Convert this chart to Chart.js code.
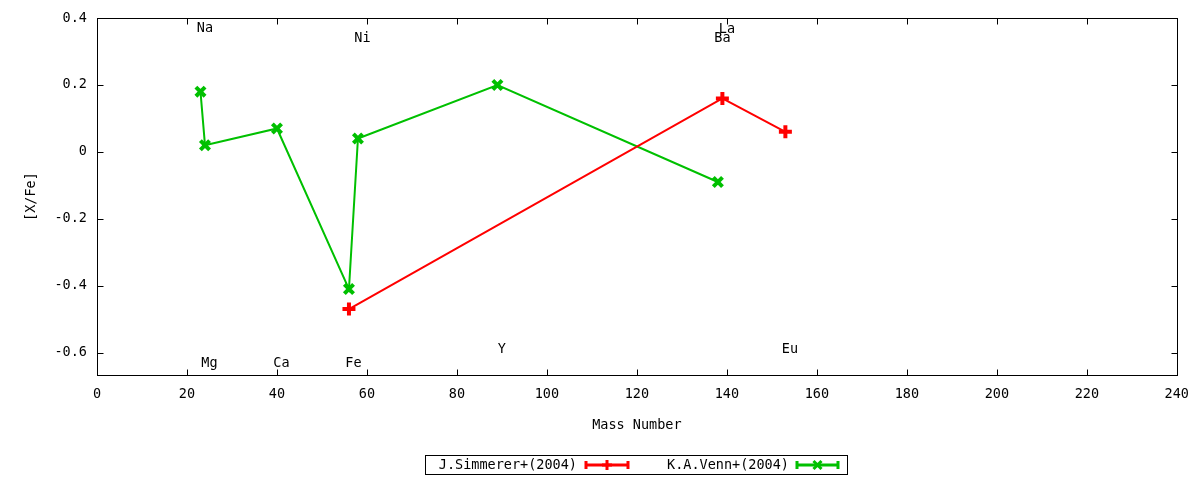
<!DOCTYPE html>
<html>
<head>
<meta charset="utf-8">
<script src="https://cdn.jsdelivr.net/npm/chart.js@4"></script>
<style>
html,body{margin:0;padding:0;background:#fff;}
#wrap{width:1200px;height:480px;position:relative;}
</style>
</head>
<body>
<div id="wrap"><canvas id="c" width="1200" height="480"></canvas></div>
<script>
// Data
const simmererMass = [56, 139, 153];
const simmererXFe  = [-0.47, 0.16, 0.06];
const vennMass = [23, 24, 40, 56, 58, 89, 138];
const vennXFe  = [0.18, 0.02, 0.07, -0.41, 0.04, 0.20, -0.09];
const elementNames = ['Na', 'Mg', 'Ca', 'Fe', 'Ni', 'Y', 'Ba', 'La', 'Eu'];
const elementMass  = [23, 24, 40, 56, 58, 89, 138, 139, 153];
const elementLabelY = [0.37, -0.633, -0.633, -0.633, 0.34, -0.591, 0.34, 0.365, -0.591];
const xTicks = [0, 20, 40, 60, 80, 100, 120, 140, 160, 180, 200, 220, 240];
const yTicks = [-0.6, -0.4, -0.2, 0, 0.2, 0.4];
const seriesNames = ['J.Simmerer+(2004)', 'K.A.Venn+(2004)'];

const FONT = '"DejaVu Sans Mono", monospace';
const FS = 13.5;
const red = '#ff0000', green = '#00c000';

function pts(xs, ys){ return xs.map((x,i)=>({x:x, y:ys[i]})); }

const framePlugin = {
  id: 'frame',
  afterDatasetsDraw(chart){
    const ctx = chart.ctx, a = chart.chartArea;
    const xs = chart.scales.x, ys = chart.scales.y;
    ctx.save();
    ctx.strokeStyle = '#000'; ctx.lineWidth = 1;
    const L = Math.round(a.left)+0.5, R = Math.round(a.right)+0.5, T = Math.round(a.top)+0.5, B = Math.round(a.bottom)+0.5;
    ctx.strokeRect(L, T, R-L, B-T);
    ctx.beginPath();
    const tl = 6;
    xTicks.forEach(v=>{
      const px = Math.round(xs.getPixelForValue(v))+0.5;
      ctx.moveTo(px, B); ctx.lineTo(px, B-tl);
      ctx.moveTo(px, T); ctx.lineTo(px, T+tl);
    });
    yTicks.forEach(v=>{
      const py = Math.round(ys.getPixelForValue(v))+0.5;
      ctx.moveTo(L, py); ctx.lineTo(L+tl, py);
      ctx.moveTo(R, py); ctx.lineTo(R-tl, py);
    });
    ctx.stroke();
    // element labels
    ctx.fillStyle = '#000';
    ctx.font = FS + 'px ' + FONT;
    ctx.textAlign = 'center'; ctx.textBaseline = 'middle';
    elementNames.forEach((n,i)=>{
      ctx.fillText(n, xs.getPixelForValue(elementMass[i]) + 4.5, ys.getPixelForValue(elementLabelY[i]));
    });
    // legend
    const bx = 425.5, by = 455.5, bw = 422, bh = 19;
    ctx.strokeRect(bx, by, bw, bh);
    const cy = by + bh/2;
    ctx.textAlign = 'right';
    const entries = [
      {name: seriesNames[0], tx: 577, l0: 586, l1: 628, color: red, style: 'cross'},
      {name: seriesNames[1], tx: 789, l0: 797, l1: 838, color: green, style: 'crossRot'}
    ];
    entries.forEach(e=>{
      ctx.fillStyle = '#000';
      ctx.fillText(e.name, e.tx, cy);
      ctx.strokeStyle = e.color; ctx.lineWidth = 3;
      ctx.beginPath();
      ctx.moveTo(e.l0, cy); ctx.lineTo(e.l1, cy);
      ctx.moveTo(e.l0, cy-4); ctx.lineTo(e.l0, cy+4);
      ctx.moveTo(e.l1, cy-4); ctx.lineTo(e.l1, cy+4);
      ctx.stroke();
      const mx = (e.l0+e.l1)/2;
      ctx.beginPath();
      if (e.style === 'cross'){
        ctx.moveTo(mx-5, cy); ctx.lineTo(mx+5, cy);
        ctx.moveTo(mx, cy-5); ctx.lineTo(mx, cy+5);
      } else {
        ctx.moveTo(mx-4, cy-4); ctx.lineTo(mx+4, cy+4);
        ctx.moveTo(mx+4, cy-4); ctx.lineTo(mx-4, cy+4);
      }
      ctx.stroke();
    });
    ctx.restore();
  }
};

new Chart(document.getElementById('c'), {
  type: 'scatter',
  data: {
    datasets: [
      {
        label: seriesNames[0],
        data: pts(simmererMass, simmererXFe),
        showLine: true,
        borderColor: red, backgroundColor: red,
        borderWidth: 2,
        pointStyle: 'cross', pointRadius: 6.5, pointBorderWidth: 4,
        pointBorderColor: red
      },
      {
        label: seriesNames[1],
        data: pts(vennMass, vennXFe),
        showLine: true,
        borderColor: green, backgroundColor: green,
        borderWidth: 2,
        pointStyle: 'crossRot', pointRadius: 6.5, pointBorderWidth: 4,
        pointBorderColor: green
      }
    ]
  },
  options: {
    responsive: false,
    animation: false,
    devicePixelRatio: 1,
    layout: {padding: {top: 16, right: 23, bottom: 0, left: 0}},
    plugins: {legend: {display: false}, tooltip: {enabled: false}},
    scales: {
      x: {
        type: 'linear', min: 0, max: 240,
        afterBuildTicks: s => { s.ticks = xTicks.map(v=>({value:v})); },
        afterFit: s => { s.height = 105; },
        grid: {display: false, drawTicks: false, tickLength: 0},
        border: {display: false},
        ticks: {color: '#000', font: {family: FONT, size: FS}, padding: 11, maxRotation: 0,
                callback: v => String(v)},
        title: {display: true, text: 'Mass Number', color: '#000', font: {family: FONT, size: FS}, padding: {top: 4, bottom: 46}}
      },
      y: {
        type: 'linear', min: -0.667, max: 0.4,
        afterBuildTicks: s => { s.ticks = yTicks.map(v=>({value:v})); },
        afterFit: s => { s.width = 97; },
        grid: {display: false, drawTicks: false, tickLength: 0},
        border: {display: false},
        ticks: {color: '#000', font: {family: FONT, size: FS}, padding: 10,
                callback: v => String(Math.round(v*10)/10)},
        title: {display: true, text: '[X/Fe]', color: '#000', font: {family: FONT, size: FS}, padding: {top: 23, bottom: 4}}
      }
    }
  },
  plugins: [framePlugin]
});
</script>
</body>
</html>
